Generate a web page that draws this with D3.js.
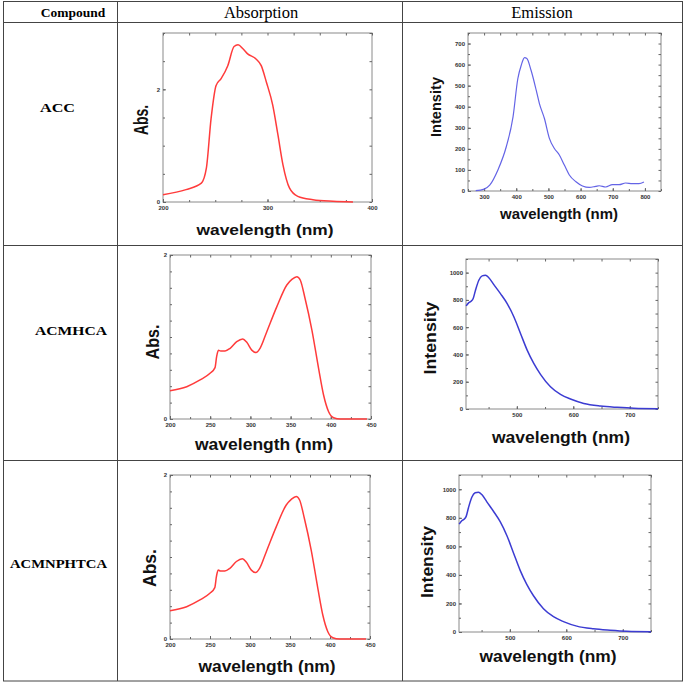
<!DOCTYPE html>
<html><head><meta charset="utf-8">
<script src="https://cdn.jsdelivr.net/npm/d3@7"></script>
<style>body{margin:0;background:#fff}svg{display:block}</style>
</head><body>
<svg id="c" width="685" height="684"></svg>
<script>
// ---------------- data ----------------
const headers = ["Compound", "Absorption", "Emission"];
const compounds = ["ACC", "ACMHCA", "ACMNPHTCA"];

// ACC absorption [wavelength nm, Abs]
const accAbs = [[200,0.13],[222,0.22],[236.7,0.335],[241.5,0.6],[246,1.48],[250.8,2.07],[255.6,2.19],[262,2.42],[268,2.76],[271.8,2.79],[276.5,2.72],[281,2.63],[289,2.54],[294,2.42],[298.9,2.13],[305,1.72],[310,1.19],[314.8,0.66],[321,0.25],[329,0.1],[343.5,0.04],[362.7,0.012],[381.8,0]];
// ACC emission [wavelength nm, Intensity]
const accEm = [[274,1.6],[300,9],[317.5,28],[343,100],[369,210],[390,352],[405,534],[415.5,597],[425.8,633],[433,629],[446,573],[462,479],[472,415],[487.6,344],[503,250],[518.6,202],[534,171],[549.5,123],[565,76],[585.6,44],[606,24],[627,17],[647,22],[658,25],[678,19],[699,30],[719.6,30],[740,38],[761,35],[781.5,35],[797,43]];
// ACMHCA absorption
const acmhcaAbs = [[200,0.345],[220.8,0.394],[237.4,0.476],[249.8,0.557],[256,0.626],[258,0.76],[260.2,0.837],[263,0.83],[268.5,0.83],[274.8,0.862],[283,0.943],[290.5,0.976],[295.5,0.935],[301.7,0.84],[307,0.81],[312,0.862],[320.4,1.065],[332.9,1.37],[345.3,1.634],[351.6,1.703],[357.8,1.736],[362,1.695],[368,1.47],[376.5,1.085],[384.8,0.618],[391,0.293],[397.3,0.089],[403.5,0.016],[411.8,0],[445,0]];
// ACMHCA emission
const acmhcaEm = [[410.3,756],[415,780],[419,790],[422.7,810],[426.8,871],[432.7,944],[438.6,976],[444.5,980],[450.4,963],[459.3,912],[471,846],[482.9,773],[494.7,676],[506.5,554],[518.3,432],[530,334],[541.9,254],[559.6,163],[577.3,107],[595,73],[618.6,41],[648,22],[677.6,12],[707,5],[750,2]];
// ACMNPHTCA absorption
const acmnphtcaAbs = [[200,0.345],[220.8,0.394],[237.4,0.476],[249.8,0.557],[256,0.626],[258,0.76],[260.2,0.84],[263,0.83],[268.5,0.83],[274.8,0.862],[283,0.945],[290.5,0.978],[295.5,0.935],[301.7,0.84],[307,0.81],[312,0.862],[320.4,1.065],[332.9,1.37],[345.3,1.634],[351.6,1.703],[357.8,1.738],[362,1.695],[368,1.47],[376.5,1.085],[384.8,0.618],[391,0.293],[397.3,0.089],[403.5,0.016],[411.8,0],[445,0]];
// ACMNPHTCA emission
const acmnphtcaEm = [[410.3,756],[415,780],[419,790],[422.7,810],[426.8,871],[432.7,944],[438.6,976],[444.5,980],[450.4,963],[459.3,912],[471,846],[482.9,773],[494.7,676],[506.5,554],[518.3,432],[530,334],[541.9,254],[559.6,163],[577.3,107],[595,73],[618.6,41],[648,22],[677.6,12],[707,5],[750,2]];

// tick labels
const accAbsXTicks = [200, 300, 400];
const accAbsYTicks = [0, 2];
const accEmXTicks = [300, 400, 500, 600, 700, 800];
const accEmYTicks = [0, 100, 200, 300, 400, 500, 600, 700];
const absXTicks = [200, 250, 300, 350, 400, 450];
const absYTicks = [0, 2];
const emXTicks = [500, 600, 700];
const emYTicks = [0, 200, 400, 600, 800, 1000];

// ---------------- drawing ----------------
const svg = d3.select("#c");
const serif = "'Liberation Serif','Times New Roman',serif";
const sans = "'Liberation Sans',Arial,sans-serif";

// table
const tbl = svg.append("g").attr("stroke", "#444").attr("stroke-width", 1).attr("fill", "none");
tbl.append("rect").attr("x", 3.5).attr("y", 1.5).attr("width", 679).attr("height", 679.5);
[117.5, 402.5].forEach(x => tbl.append("line").attr("x1", x).attr("x2", x).attr("y1", 1.5).attr("y2", 681));
[22.5, 245.5, 460.5].forEach(y => tbl.append("line").attr("x1", 3.5).attr("x2", 682.5).attr("y1", y).attr("y2", y));

svg.append("text").attr("x", 73).attr("y", 17).attr("text-anchor", "middle")
  .attr("font-family", serif).attr("font-weight", "bold").attr("font-size", 13.5).text(headers[0]);
svg.append("text").attr("x", 261).attr("y", 18).attr("text-anchor", "middle")
  .attr("font-family", serif).attr("font-size", 16.5).text(headers[1]);
svg.append("text").attr("x", 542).attr("y", 18).attr("text-anchor", "middle")
  .attr("font-family", serif).attr("font-size", 16.5).text(headers[2]);

const compPos = [[57.5, 112, 35], [71, 335, 72], [58.5, 568, 97]];
compounds.forEach((c, i) => {
  svg.append("text").attr("x", compPos[i][0]).attr("y", compPos[i][1]).attr("text-anchor", "middle")
    .attr("font-family", serif).attr("font-weight", "bold").attr("font-size", 13.5)
    .attr("textLength", compPos[i][2]).attr("lengthAdjust", "spacingAndGlyphs").text(c);
});

function panel(o) {
  const g = svg.append("g");
  const x = d3.scaleLinear().domain(o.xd).range([o.l, o.r]);
  const y = d3.scaleLinear().domain(o.yd).range([o.b, o.t]);
  // frame
  g.append("rect").attr("x", o.l).attr("y", o.t).attr("width", o.r - o.l).attr("height", o.b - o.t)
    .attr("fill", "none").attr("stroke", "#8a8a8a").attr("stroke-width", 1);
  const styleAxis = sel => {
    sel.select(".domain").remove();
    sel.selectAll("line").attr("stroke", "#666");
    sel.selectAll("text").attr("font-family", sans).attr("font-weight", "bold")
      .attr("font-size", 6).attr("fill", "#333");
  };
  // major ticks with labels
  g.append("g").attr("transform", `translate(0,${o.b})`)
    .call(d3.axisBottom(x).tickValues(o.xt).tickSize(-3).tickPadding(4).tickFormat(d3.format("d"))).call(styleAxis);
  g.append("g").attr("transform", `translate(${o.l},0)`)
    .call(d3.axisLeft(y).tickValues(o.yt).tickSize(-3).tickPadding(3).tickFormat(d3.format("d"))).call(styleAxis);
  // top / right ticks and minors
  g.append("g").attr("transform", `translate(0,${o.t})`)
    .call(d3.axisTop(x).tickValues(o.xm).tickSize(-2.5).tickFormat("")).call(styleAxis);
  g.append("g").attr("transform", `translate(0,${o.b})`)
    .call(d3.axisBottom(x).tickValues(o.xm).tickSize(-2).tickFormat("")).call(styleAxis);
  g.append("g").attr("transform", `translate(${o.r},0)`)
    .call(d3.axisRight(y).tickValues(o.ym).tickSize(-2.5).tickFormat("")).call(styleAxis);
  g.append("g").attr("transform", `translate(${o.l},0)`)
    .call(d3.axisLeft(y).tickValues(o.ym).tickSize(-2).tickFormat("")).call(styleAxis);
  // curve
  const line = d3.line().x(d => x(d[0])).y(d => y(d[1])).curve(d3.curveMonotoneX);
  g.append("path").datum(o.data).attr("d", line).attr("fill", "none")
    .attr("stroke", o.color).attr("stroke-width", o.lw || 1.5).attr("stroke-linejoin", "round");
  // axis titles
  g.append("text").attr("transform", `translate(${o.ylx},${o.yly}) rotate(-90)`)
    .attr("text-anchor", "middle").attr("font-family", sans).attr("font-weight", "bold")
    .attr("font-size", o.ylfs).attr("textLength", o.ylw).attr("lengthAdjust", "spacingAndGlyphs")
    .attr("fill", "#111").text(o.ylab);
  g.append("text").attr("x", o.xlx).attr("y", o.xly)
    .attr("text-anchor", "middle").attr("font-family", sans).attr("font-weight", "bold")
    .attr("font-size", o.xlfs).attr("textLength", o.xlw).attr("lengthAdjust", "spacingAndGlyphs")
    .attr("fill", "#111").text("wavelength (nm)");
}

const range = (a, b, s) => d3.range(a, b + 1e-9, s);

panel({data: accAbs, xd: [200, 400], yd: [0, 3], l: 163, r: 372, t: 33, b: 202,
  xt: accAbsXTicks, yt: accAbsYTicks, xm: range(200, 400, 25), ym: range(0, 3, 0.5),
  color: "#ff3b3b", ylab: "Abs.", ylx: 148, yly: 120, ylfs: 21, ylw: 30,
  xlx: 265, xly: 235, xlfs: 15, xlw: 137});
panel({data: accEm, xd: [250, 850], yd: [0, 750], l: 468, r: 661, t: 33, b: 191,
  xt: accEmXTicks, yt: accEmYTicks, xm: range(250, 850, 50), ym: range(0, 750, 50),
  color: "#6464e6", lw: 1.2, ylab: "Intensity", ylx: 441, yly: 107, ylfs: 15, ylw: 60,
  xlx: 559, xly: 219, xlfs: 14.5, xlw: 118});
panel({data: acmhcaAbs, xd: [200, 450], yd: [0, 2], l: 170, r: 371, t: 255, b: 419,
  xt: absXTicks, yt: absYTicks, xm: range(200, 450, 25), ym: range(0, 2, 0.2),
  color: "#ff3b3b", ylab: "Abs.", ylx: 159, yly: 342, ylfs: 18, ylw: 35,
  xlx: 264, xly: 450, xlfs: 16, xlw: 138});
panel({data: acmhcaEm, xd: [410, 750], yd: [0, 1100], l: 466, r: 658, t: 259, b: 409,
  xt: emXTicks, yt: emYTicks, xm: range(450, 750, 50), ym: range(0, 1100, 100),
  color: "#3c3cd2", ylab: "Intensity", ylx: 436, yly: 338, ylfs: 16.5, ylw: 73,
  xlx: 561, xly: 443, xlfs: 16, xlw: 138});
panel({data: acmnphtcaAbs, xd: [200, 450], yd: [0, 2], l: 170, r: 370, t: 475, b: 639,
  xt: absXTicks, yt: absYTicks, xm: range(200, 450, 25), ym: range(0, 2, 0.2),
  color: "#ff3b3b", ylab: "Abs.", ylx: 156, yly: 568, ylfs: 18, ylw: 38,
  xlx: 267, xly: 672, xlfs: 16, xlw: 137});
panel({data: acmnphtcaEm, xd: [410, 750], yd: [0, 1100], l: 459, r: 651, t: 475, b: 632,
  xt: emXTicks, yt: emYTicks, xm: range(450, 750, 50), ym: range(0, 1100, 100),
  color: "#3c3cd2", ylab: "Intensity", ylx: 433, yly: 562, ylfs: 16.5, ylw: 72,
  xlx: 548, xly: 662, xlfs: 16, xlw: 137});
</script>
</body></html>
